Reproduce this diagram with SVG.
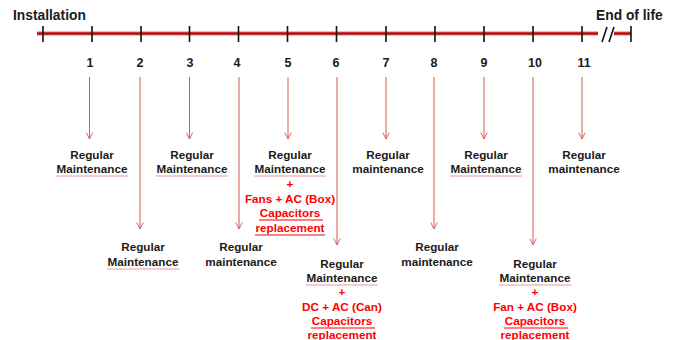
<svg xmlns="http://www.w3.org/2000/svg" width="675" height="340" viewBox="0 0 675 340">
<style>
text{font-family:"Liberation Sans",Arial,sans-serif;font-weight:bold;fill:#1a1a1a;text-anchor:middle}
.t{font-size:13.8px;text-anchor:start}
.n{font-size:12.5px}
.l{font-size:11.7px}
.r{fill:#ff0000}
.tick{stroke:#111;stroke-width:1.6}
.arr{stroke:#d85a5a;stroke-width:1;fill:none}
.sq{stroke:#f08c8c;stroke-width:0.9;fill:none}
.ul{stroke:#ff0000;stroke-width:1;fill:none}
</style>
<defs>
<marker id="ah" viewBox="0 0 10 10" refX="9" refY="5" markerWidth="8" markerHeight="8" markerUnits="userSpaceOnUse" orient="auto">
<path d="M1,1 L9,5 L1,9" fill="none" stroke="#d85a5a" stroke-width="1.2"/>
</marker>
</defs>
<g id="timeline">
<line x1="37" y1="33.5" x2="631" y2="33.5" stroke="#e07070" stroke-width="4"/>
<line x1="37" y1="33.5" x2="631" y2="33.5" stroke="#b80000" stroke-width="2"/>
<g class="tick">
<line x1="43" y1="26" x2="43" y2="42"/>
<line x1="92" y1="26" x2="92" y2="42"/>
<line x1="141" y1="26" x2="141" y2="42"/>
<line x1="189.5" y1="26" x2="189.5" y2="42"/>
<line x1="238.5" y1="26" x2="238.5" y2="42"/>
<line x1="287.5" y1="26" x2="287.5" y2="42"/>
<line x1="336.5" y1="26" x2="336.5" y2="42"/>
<line x1="386" y1="26" x2="386" y2="42"/>
<line x1="435" y1="26" x2="435" y2="42"/>
<line x1="484" y1="26" x2="484" y2="42"/>
<line x1="533" y1="26" x2="533" y2="42"/>
<line x1="582" y1="26" x2="582" y2="42"/>
<line x1="631" y1="26" x2="631" y2="42"/>
</g>
<rect x="598" y="28" width="16" height="12" fill="#fff"/>
<line x1="602" y1="42" x2="607" y2="27" class="tick"/>
<line x1="609" y1="42" x2="614" y2="27" class="tick"/>
<text class="t" x="13" y="20">Installation</text>
<text class="t" x="596" y="20">End of life</text>
<text class="n" x="90" y="67">1</text>
<text class="n" x="140" y="67">2</text>
<text class="n" x="190" y="67">3</text>
<text class="n" x="237" y="67">4</text>
<text class="n" x="288" y="67">5</text>
<text class="n" x="336" y="67">6</text>
<text class="n" x="386" y="67">7</text>
<text class="n" x="434" y="67">8</text>
<text class="n" x="484" y="67">9</text>
<text class="n" x="535" y="67">10</text>
<text class="n" x="584" y="67">11</text>
</g>
<g id="connectors">
<line class="arr" x1="89.5" y1="77" x2="89.5" y2="139" marker-end="url(#ah)"/>
<line class="arr" x1="140" y1="77" x2="140" y2="229" marker-end="url(#ah)"/>
<line class="arr" x1="189.5" y1="77" x2="189.5" y2="139" marker-end="url(#ah)"/>
<line class="arr" x1="239" y1="77" x2="239" y2="229" marker-end="url(#ah)"/>
<line class="arr" x1="288" y1="77" x2="288" y2="139" marker-end="url(#ah)"/>
<line class="arr" x1="337" y1="77" x2="337" y2="245" marker-end="url(#ah)"/>
<line class="arr" x1="386" y1="77" x2="386" y2="139" marker-end="url(#ah)"/>
<line class="arr" x1="434" y1="77" x2="434" y2="229" marker-end="url(#ah)"/>
<line class="arr" x1="484" y1="77" x2="484" y2="139" marker-end="url(#ah)"/>
<line class="arr" x1="533" y1="77" x2="533" y2="245" marker-end="url(#ah)"/>
<line class="arr" x1="582" y1="77" x2="582" y2="139" marker-end="url(#ah)"/>
</g>
<g id="n1">
<text class="l" x="92" y="159">Regular</text>
<text class="l" x="92" y="173">Maintenance</text>
<line class="sq" x1="56" y1="176" x2="128" y2="176"/>
</g>
<g id="n2">
<text class="l" x="143" y="251">Regular</text>
<text class="l" x="143" y="266">Maintenance</text>
<line class="sq" x1="107" y1="269" x2="179" y2="269"/>
</g>
<g id="n3">
<text class="l" x="192" y="159">Regular</text>
<text class="l" x="192" y="173">Maintenance</text>
<line class="sq" x1="156" y1="176" x2="228" y2="176"/>
</g>
<g id="n4">
<text class="l" x="241" y="251">Regular</text>
<text class="l" x="241" y="266">maintenance</text>
</g>
<g id="n5">
<text class="l" x="290" y="159">Regular</text>
<text class="l" x="290" y="173">Maintenance</text>
<line class="sq" x1="254" y1="176" x2="326" y2="176"/>
<text class="l r" x="290" y="188">+</text>
<text class="l r" x="290" y="203">Fans + AC (Box)</text>
<text class="l r" x="290" y="217">Capacitors</text>
<line class="ul" x1="259" y1="220" x2="323" y2="220"/>
<text class="l r" x="290" y="232">replacement</text>
<line class="ul" x1="255" y1="235" x2="325" y2="235"/>
</g>
<g id="n6">
<text class="l" x="342" y="268">Regular</text>
<text class="l" x="342" y="282">Maintenance</text>
<line class="sq" x1="306" y1="285" x2="378" y2="285"/>
<text class="l r" x="342" y="296">+</text>
<text class="l r" x="342" y="311">DC + AC (Can)</text>
<text class="l r" x="342" y="325">Capacitors</text>
<line class="ul" x1="311" y1="328" x2="375" y2="328"/>
<text class="l r" x="342" y="339">replacement</text>
</g>
<g id="n7">
<text class="l" x="388" y="159">Regular</text>
<text class="l" x="388" y="173">maintenance</text>
</g>
<g id="n8">
<text class="l" x="437" y="251">Regular</text>
<text class="l" x="437" y="266">maintenance</text>
</g>
<g id="n9">
<text class="l" x="486" y="159">Regular</text>
<text class="l" x="486" y="173">Maintenance</text>
<line class="sq" x1="450" y1="176" x2="522" y2="176"/>
</g>
<g id="n10">
<text class="l" x="535" y="268">Regular</text>
<text class="l" x="535" y="282">Maintenance</text>
<line class="sq" x1="499" y1="285" x2="571" y2="285"/>
<text class="l r" x="535" y="296">+</text>
<text class="l r" x="535" y="311">Fan + AC (Box)</text>
<text class="l r" x="535" y="325">Capacitors</text>
<line class="ul" x1="504" y1="328" x2="568" y2="328"/>
<text class="l r" x="535" y="339">replacement</text>
</g>
<g id="n11">
<text class="l" x="584" y="159">Regular</text>
<text class="l" x="584" y="173">maintenance</text>
</g>
</svg>
